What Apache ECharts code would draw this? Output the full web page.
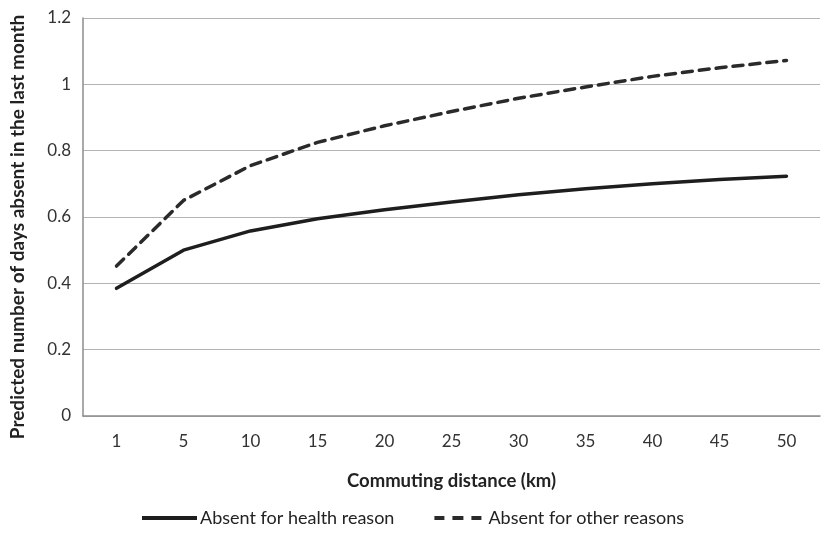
<!DOCTYPE html>
<html><head><meta charset="utf-8">
<script src="https://cdn.jsdelivr.net/npm/echarts@6/dist/echarts.min.js"></script>
<style>html,body{margin:0;padding:0;background:#fff}#c{width:822px;height:537px}</style>
</head><body><div id="c"></div>
<script>
const categories = ['1','5','10','15','20','25','30','35','40','45','50'];
const healthValues = [0.385, 0.50, 0.558, 0.595, 0.622, 0.645, 0.667, 0.685, 0.700, 0.713, 0.723];
const otherValues = [0.452, 0.650, 0.755, 0.825, 0.875, 0.918, 0.958, 0.992, 1.024, 1.050, 1.072];
const yTicks = {min: 0, max: 1.2, interval: 0.2};
const font = 'Lato, "Open Sans", sans-serif';
const chart = echarts.init(document.getElementById('c'));
chart.setOption({
  animation: false,
  grid: {left: 83, right: 2, top: 18, bottom: 121},
  legend: {
    bottom: 5, left: 137, itemGap: 40, itemWidth: 55, itemHeight: 4,
    textStyle: {fontFamily: font, fontSize: 18, color: '#222', padding: [0,0,0,-2]},
    data: [
      {name: 'Absent for health reason', icon: 'path://M0,0H55V4H0Z'},
      {name: 'Absent for other reasons', icon: 'path://M4,0H14V4H4ZM22,0H33V4H22ZM41,0H51V4H41Z'}
    ]
  },
  xAxis: {
    type: 'category', data: categories, boundaryGap: true,
    name: 'Commuting distance (km)', nameLocation: 'middle', nameGap: 56,
    nameTextStyle: {fontFamily: font, fontSize: 18.5, fontWeight: 'bold', color: '#222'},
    axisLine: {lineStyle: {color: '#8c8c8c', width: 1.5}},
    axisTick: {show: false},
    axisLabel: {fontFamily: font, fontSize: 17, color: '#333', margin: 17}
  },
  yAxis: {
    type: 'value', min: yTicks.min, max: yTicks.max, interval: yTicks.interval,
    name: 'Predicted number of days absent in the last month', nameLocation: 'middle', nameGap: 56,
    nameTextStyle: {fontFamily: font, fontSize: 19, fontWeight: 'bold', color: '#222', padding: [0, 20, 0, 0]},
    axisLine: {show: true, lineStyle: {color: '#8c8c8c', width: 1.5}},
    axisTick: {show: false},
    splitLine: {lineStyle: {color: '#b4b4b4', width: 1.2}},
    axisLabel: {fontFamily: font, fontSize: 17, color: '#333', margin: 12}
  },
  series: [
    {name: 'Absent for health reason', type: 'line', data: healthValues, symbol: 'none',
     lineStyle: {color: '#1e1e1e', width: 3.5, cap: 'round'}, itemStyle: {color: '#1e1e1e'}},
    {name: 'Absent for other reasons', type: 'line', data: otherValues, symbol: 'none',
     lineStyle: {color: '#2a2a2a', width: 3.5, type: [10, 7], cap: 'round'}, itemStyle: {color: '#2a2a2a'}}
  ]
});
</script></body></html>
